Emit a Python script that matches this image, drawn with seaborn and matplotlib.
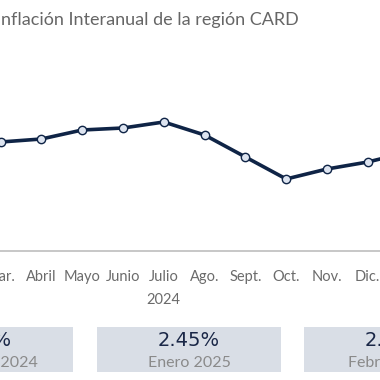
import matplotlib
matplotlib.use("Agg")
import matplotlib.pyplot as plt
import seaborn as sns
import pandas as pd
from matplotlib.patches import Rectangle

sns.set_theme(style="white")
plt.rcParams['font.family'] = ['Lato', 'DejaVu Sans']

# ---- data ----
month_labels = ["Ene.", "Feb.", "Mar.", "Abril", "Mayo", "Junio", "Julio",
                "Ago.", "Sept.", "Oct.", "Nov.", "Dic.", "Ene.", "Feb."]
months_shown = ["Mar.", "Abril", "Mayo", "Junio", "Julio", "Ago.", "Sept.",
                "Oct.", "Nov.", "Dic.", "Ene."]
month_pos = [2, 3, 4, 5, 6, 7, 8, 9, 10, 11, 12]
inflation = [2.55, 2.58, 2.67, 2.69, 2.75, 2.62, 2.40, 2.18, 2.28, 2.35, 2.45]
box_values = ["2.35%", "2.45%", "2.52%"]
box_labels = ["Diciembre 2024", "Enero 2025", "Febrero 2025"]
title = "Inflación Interanual de la región CARD"
year_label = "2024"

df = pd.DataFrame({"pos": month_pos, "valor": inflation, "mes": months_shown})

W = H = 380
fig = plt.figure(figsize=(3.8, 3.8), dpi=100)
fig.patch.set_facecolor("white")

# axes geometry in pixels (axes wider than figure: chart is a crop)
step = 40.8
x0 = -81 - 0.5 * step
ax_w = 14 * step
ax_bottom_px = 250.5
ax_top_px = 60
ax = fig.add_axes([x0 / W, 1 - ax_bottom_px / H, ax_w / W, (ax_bottom_px - ax_top_px) / H])
ax.set_facecolor("none")

navy = "#0f2446"
sns.lineplot(data=df, x="pos", y="valor", ax=ax, color=navy, linewidth=2.6,
             marker="o", markersize=6, markerfacecolor="#dde4f0",
             markeredgecolor=navy, markeredgewidth=1.0, zorder=3)

ax.set_xlim(-0.5, 13.5)
ax.set_ylim(2.45 + (152 - ax_bottom_px) / 100, 2.45 + (152 - ax_top_px) / 100)
ax.set_xticks(range(len(month_labels)))
ax.set_xticklabels(month_labels, fontsize=10.5, color="#6b6b6b")
ax.tick_params(axis="x", length=0, pad=14)
ax.set_yticks([])
ax.set_xlabel("")
ax.set_ylabel("")
for s in ["top", "right", "left"]:
    ax.spines[s].set_visible(False)
ax.spines["bottom"].set_color("#bdbdbd")
ax.spines["bottom"].set_linewidth(1.2)

ax.text(6, -0.26, year_label, transform=ax.get_xaxis_transform(),
        ha="center", va="center", fontsize=10.5, color="#6b6b6b")

fig.text(-4 / W, 1 - 20 / H, title, ha="left", va="center",
         fontsize=13, color="#666666")

# summary boxes
box_left = [-111, 97, 304]
box_w = 184
for bl, val, lab in zip(box_left, box_values, box_labels):
    fig.patches.append(Rectangle((bl / W, 1 - 372 / H), box_w / W, 45 / H,
                                 transform=fig.transFigure, facecolor="#d9dee6",
                                 edgecolor="none", zorder=0))
    cx = (bl + box_w / 2) / W
    fig.text(cx, 1 - 341 / H, val, ha="center", va="center", fontsize=14,
             color="#1a2747", family=["DejaVu Sans"])
    fig.text(cx, 1 - 363 / H, lab, ha="center", va="center", fontsize=11.5,
             color="#8a8a8a")

fig.savefig("out.png", dpi=100)
